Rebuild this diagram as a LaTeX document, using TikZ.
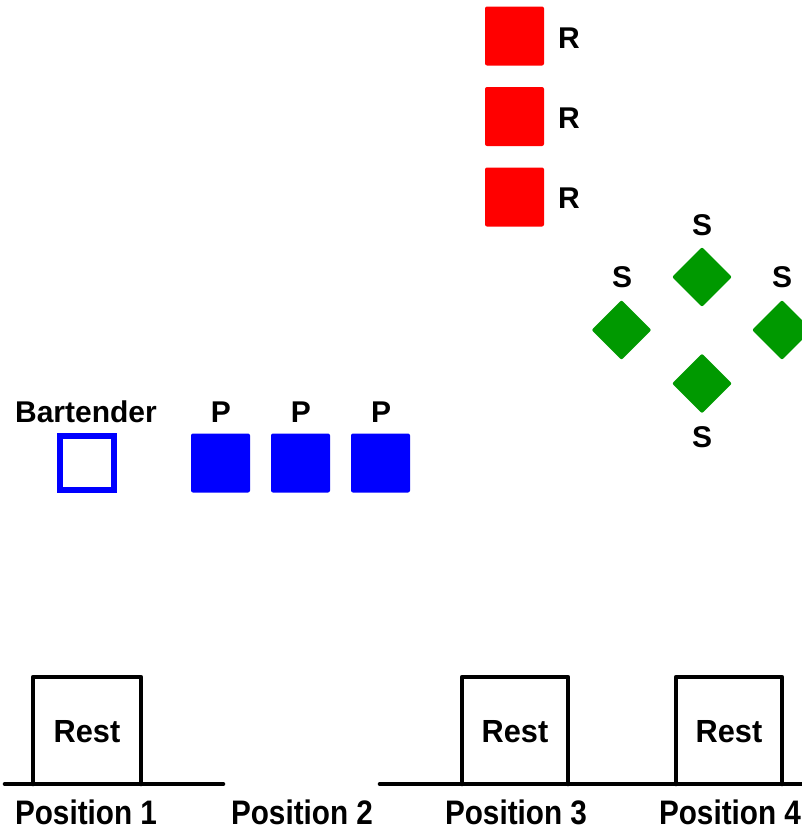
\documentclass[tikz,border=0pt]{standalone}
\usepackage{fontspec}
\setmainfont{Liberation Sans}
\newfontfamily\posfont[FakeStretch=0.874]{Liberation Sans}
\newfontfamily\restfont[FakeStretch=0.96]{Liberation Sans}
\begin{document}
\begin{tikzpicture}[x=1pt,y=-1pt,
  lbl/.style={font=\fontsize{30}{30}\selectfont\bfseries, inner sep=0pt},
  poslbl/.style={font=\posfont\fontsize{34}{34}\selectfont\bfseries, inner sep=0pt},
  restlbl/.style={font=\restfont\fontsize{32}{32}\selectfont\bfseries, inner sep=0pt},
  rsq/.style={rectangle, fill=red, minimum size=59pt, inner sep=0pt, rounded corners=2pt},
  bsq/.style={rectangle, fill=blue, minimum size=59pt, inner sep=0pt, rounded corners=2pt},
  gdia/.style={rectangle, fill=sgreen, minimum size=42.4pt, inner sep=0pt, rounded corners=2pt, rotate=45},
  base/.style={line width=4.6pt, line cap=round, line join=round},
]
\definecolor{sgreen}{RGB}{0,153,0}
\useasboundingbox (0,0) rectangle (801,827);
% red squares
\node[rsq] (r1) at (514.5,36) {};
\node[rsq] (r2) at (514.5,116.5) {};
\node[rsq] (r3) at (514.5,197) {};
\node[lbl] (lr1) at (569,38) {R};
\node[lbl] (lr2) at (569,118) {R};
\node[lbl] (lr3) at (569,198) {R};
% green diamonds
\node[gdia] (s1) at (702,277) {};
\node[gdia] (s2) at (621.5,330) {};
\node[gdia] (s3) at (782,330) {};
\node[gdia] (s4) at (702,383.5) {};
\node[lbl] (ls1) at (702,225) {S};
\node[lbl] (ls2) at (622,277.5) {S};
\node[lbl] (ls3) at (782,277.5) {S};
\node[lbl] (ls4) at (702,437) {S};
% blue
\node[rectangle, draw=blue, line width=6pt, minimum size=54pt, inner sep=0pt] (bt) at (87,463) {};
\node[bsq] (p1) at (220.5,463) {};
\node[bsq] (p2) at (300.5,463) {};
\node[bsq] (p3) at (380.5,463) {};
\node[lbl] (lbt) at (86,412) {Bartender};
\node[lbl] (lp1) at (221,412) {P};
\node[lbl] (lp2) at (301,412) {P};
\node[lbl] (lp3) at (381,412) {P};
% bottom
\draw[base] (5,784) -- (223,784);
\draw[base] (33,784) -- (33,677) -- (141,677) -- (141,784);
\draw[base] (380,784) -- (806,784);
\draw[base] (462,784) -- (462,677) -- (568,677) -- (568,784);
\draw[base] (676,784) -- (676,677) -- (782,677) -- (782,784);
\node[restlbl] (rest1) at (87,732) {Rest};
\node[restlbl] (rest3) at (515,732) {Rest};
\node[restlbl] (rest4) at (729,732) {Rest};
\node[poslbl] (pos1) at (86,812) {Position 1};
\node[poslbl] (pos2) at (302,812) {Position 2};
\node[poslbl] (pos3) at (516,812) {Position 3};
\node[poslbl] (pos4) at (730,812) {Position 4};
\end{tikzpicture}
\end{document}
